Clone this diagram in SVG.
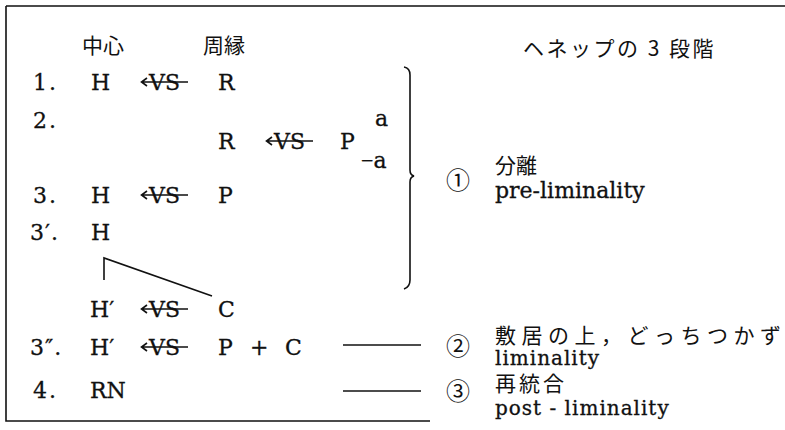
<svg xmlns="http://www.w3.org/2000/svg" width="785" height="430" viewBox="0 0 785 430">
<style>
.t{font-family:"DejaVu Serif","Noto Sans CJK JP",serif;font-size:22px;fill:#111;stroke:#111;stroke-width:0.3}
.s{font-size:20px;letter-spacing:1px}
.j{font-family:"Noto Sans CJK JP","DejaVu Serif",sans-serif;font-size:21px;fill:#111}
.c{font-family:"Noto Sans CJK JP",sans-serif;font-size:24px;fill:#111;text-anchor:middle}
.ln{stroke:#111;stroke-width:1.6;fill:none}
</style>
<defs>
<g id="vs">
<text class="t" x="11" y="0">VS</text>
<path class="ln" d="M4,-8 H50 M9,-12 L3.5,-8 L9,-4" stroke-width="1.5"/>
</g>
</defs>
<g id="frame">
<path class="ln" d="M6,6 H785 M6,6 V421 H430" stroke-width="1.8"/>
</g>
<g id="headers">
<text class="j" x="82" y="53" font-size="22">中心</text>
<text class="j" x="203" y="53" font-size="22">周縁</text>
<text class="j" x="523" y="56" letter-spacing="2.5">ヘネップの 3 段階</text>
</g>
<g id="row1">
<text class="t" x="33" y="90" letter-spacing="2">1.</text>
<text class="t" x="91" y="90">H</text>
<use href="#vs" x="138" y="90"/>
<text class="t" x="218" y="90">R</text>
</g>
<g id="row2">
<text class="t" x="33" y="128" letter-spacing="2">2.</text>
<text class="t" x="218" y="149">R</text>
<use href="#vs" x="263" y="149"/>
<text class="t" x="340" y="149">P</text>
<text class="t" x="375" y="126">a</text>
<text class="t" x="361" y="168"><tspan font-family="Liberation Serif">−</tspan>a</text>
</g>
<g id="row3">
<text class="t" x="33" y="203" letter-spacing="2">3.</text>
<text class="t" x="91" y="203">H</text>
<use href="#vs" x="138" y="203"/>
<text class="t" x="218" y="203">P</text>
</g>
<g id="row3p">
<text class="t" x="30" y="240" letter-spacing="1">3′.</text>
<text class="t" x="91" y="240">H</text>
</g>
<g id="rowHC">
<text class="t" x="90" y="317">H′</text>
<use href="#vs" x="138" y="317"/>
<text class="t" x="218" y="317">C</text>
</g>
<g id="row3pp">
<text class="t" x="30" y="355" letter-spacing="1">3″.</text>
<text class="t" x="90" y="355">H′</text>
<use href="#vs" x="138" y="355"/>
<text class="t" x="218" y="355">P</text>
<text class="t" x="250" y="355">+</text>
<text class="t" x="285" y="355">C</text>
</g>
<g id="row4">
<text class="t" x="33" y="398" letter-spacing="2">4.</text>
<text class="t" x="90" y="398">RN</text>
</g>
<g id="stage1">
<text class="c" x="458" y="189">①</text>
<text class="j" x="495" y="173" font-size="20">分離</text>
<text class="t" x="495" y="198">pre-liminality</text>
</g>
<g id="stage2">
<text class="c" x="458" y="355">②</text>
<text class="j" x="495" y="343" font-size="20" letter-spacing="5.5">敷居の上，どっちつかず</text>
<text class="t s" x="495" y="365">liminality</text>
</g>
<g id="stage3">
<text class="c" x="458" y="400">③</text>
<text class="j" x="495" y="391" font-size="20" letter-spacing="3">再統合</text>
<text class="t s" x="495" y="415">post - liminality</text>
</g>
<g id="connectors">
<path class="ln" d="M104,280 V258 L212,296"/>
<path class="ln" d="M404,67 Q410,68 410,75 V170 Q410,175 414,176 Q410,177 410,182 V280 Q410,287 404,289"/>
<path class="ln" d="M343,345 H421"/>
<path class="ln" d="M343,391 H421"/>
</g>
</svg>
